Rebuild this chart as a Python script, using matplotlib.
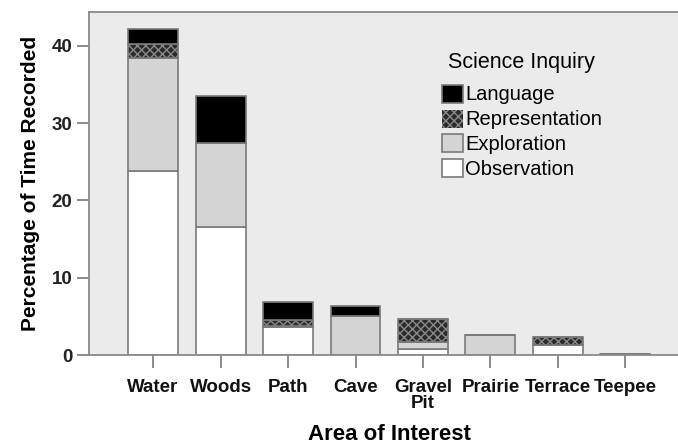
import matplotlib
matplotlib.use("Agg")
import matplotlib.pyplot as plt
import numpy as np

plt.rcParams['font.family'] = ['Liberation Sans', 'DejaVu Sans']
plt.rcParams['hatch.linewidth'] = 1.0

categories = ["Water", "Woods", "Path", "Cave", "Gravel\nPit", "Prairie", "Terrace", "Teepee"]
observation = [23.8, 16.6, 3.6, 0.0, 0.8, 0.0, 1.3, 0.1]
exploration = [14.7, 10.8, 0.1, 5.0, 0.9, 2.6, 0.0, 0.0]
representation = [1.7, 0.0, 0.8, 0.0, 3.0, 0.0, 1.0, 0.0]
language = [2.0, 6.1, 2.4, 1.3, 0.0, 0.0, 0.0, 0.0]
yticks = [0, 10, 20, 30, 40]

fig = plt.figure(figsize=(6.78, 4.44), dpi=100)
ax = fig.add_axes([89/678, 89/444, 1 - 89/678, (355-12)/444])
ax.set_facecolor('#ebebeb')

x = np.arange(len(categories))
w = 0.74
edge = '#7a7a7a'
b1 = ax.bar(x, observation, w, color='white', edgecolor=edge, linewidth=1.2, label='Observation')
bot = np.array(observation)
b2 = ax.bar(x, exploration, w, bottom=bot, color='#d4d4d4', edgecolor=edge, linewidth=1.2, label='Exploration')
bot = bot + np.array(exploration)
b3 = ax.bar(x, representation, w, bottom=bot, color='#2b2b2b', edgecolor='#8a8a8a', hatch='xxxx',
            linewidth=0, label='Representation')
ax.bar(x, representation, w, bottom=bot, color='none', edgecolor=edge, linewidth=1.2)
bot = bot + np.array(representation)
b4 = ax.bar(x, language, w, bottom=bot, color='black', edgecolor=edge, linewidth=1.2, label='Language')

ax.set_xlim(-0.95, 7.78)
ax.set_ylim(0, 44.4)
ax.set_yticks(yticks)
ax.set_xticks(x)
ax.set_xticklabels(categories, fontsize=13.5, fontweight='bold', linespacing=0.95)
ax.tick_params(axis='y', labelsize=13.5, length=9, width=1.2, color='#777777', pad=3)
ax.tick_params(axis='x', length=9, width=1.2, color='#777777', pad=8)
for lab in ax.get_yticklabels():
    lab.set_fontweight('bold')
    lab.set_color('#222222')
for lab in ax.get_xticklabels():
    lab.set_color('#111111')

for s in ['left', 'bottom', 'top']:
    ax.spines[s].set_color('#8a8a8a')
    ax.spines[s].set_linewidth(1.3)
ax.spines['right'].set_visible(False)

fig.text(389/678, 10/444, 'Area of Interest', fontsize=16, fontweight='bold',
         ha='center', va='center')
ax.set_ylabel('Percentage of Time Recorded', fontsize=15, fontweight='bold', labelpad=8)

handles = [b4, b3, b2, b1]
labels = ['Language', 'Representation', 'Exploration', 'Observation']
leg = ax.legend(handles, labels, title='Science Inquiry', loc='upper left',
                bbox_to_anchor=(0.600, 0.882), frameon=False, fontsize=14.5,
                title_fontsize=15.5, handlelength=1.0, handleheight=1.0,
                handletextpad=0.12, labelspacing=0.25, borderpad=0.0,
                borderaxespad=0.0)
leg._legend_box.align = 'left'
leg._legend_box.sep = 8
leg.get_title().set_position((6, 0))

fig.savefig('out.png', dpi=100)
